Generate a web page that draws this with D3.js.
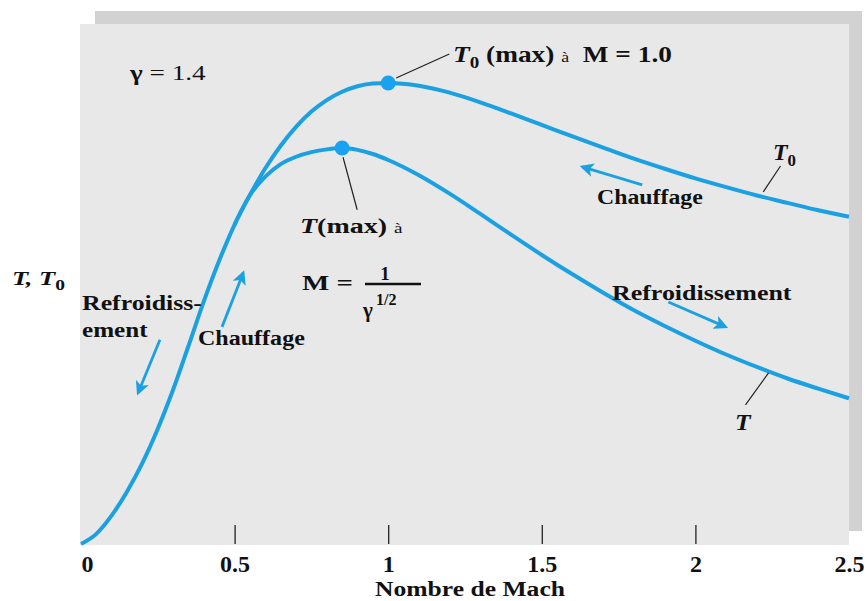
<!DOCTYPE html>
<html lang="fr">
<head>
  <meta charset="UTF-8" />
  <title>Rayleigh : T et T0 en fonction du nombre de Mach</title>
  <script src="https://d3js.org/d3.v7.min.js"></script>
  <style>
    html, body { margin: 0; padding: 0; background: #ffffff; }
    svg { display: block; }
    text { font-family: 'Liberation Serif', 'Times New Roman', serif; fill: #111; white-space: pre; }
  </style>
</head>
<body>
  <div id="chart"></div>
  <script>
    // valeurs (gamma = 1.4)
    const machT0 = [0, 0.05, 0.1, 0.15, 0.2, 0.25, 0.3, 0.35, 0.4, 0.45, 0.5, 0.55, 0.6, 0.65, 0.7, 0.75, 0.8, 0.85, 0.9, 0.95,
                    1.0, 1.1, 1.2, 1.3, 1.4, 1.5, 1.6, 1.7, 1.8, 1.9, 2.0, 2.1, 2.2, 2.3, 2.4, 2.5];
    const t0Values = [0, 0.022, 0.062, 0.114, 0.176, 0.250, 0.335, 0.430, 0.527, 0.615, 0.693, 0.757, 0.815, 0.864, 0.905, 0.938, 0.963, 0.981, 0.993, 0.999,
                      1.000, 0.994, 0.979, 0.958, 0.934, 0.909, 0.884, 0.860, 0.836, 0.814, 0.793, 0.774, 0.756, 0.740, 0.724, 0.710];

    const machT = [0.5, 0.55, 0.6, 0.65, 0.7, 0.75, 0.8, 0.85, 0.9, 0.95,
                   1.0, 1.1, 1.2, 1.3, 1.4, 1.5, 1.6, 1.7, 1.8, 1.9, 2.0, 2.1, 2.2, 2.3, 2.4, 2.5];
    const tValues = [0.693, 0.757, 0.797, 0.824, 0.840, 0.850, 0.856, 0.859, 0.855, 0.846,
                     0.833, 0.800, 0.760, 0.716, 0.671, 0.627, 0.585, 0.545, 0.507, 0.473, 0.441, 0.411, 0.384, 0.359, 0.337, 0.316];

    const machTicks = [0, 0.5, 1, 1.5, 2, 2.5];
    const tickLabels = ["0", "0.5", "1", "1.5", "2", "2.5"];

    // fleches de sens (M, valeur) -> (M, valeur), pointe a la fin
    const arrows = [
      [[1.827, 0.779], [1.632, 0.818]],
      [[1.912, 0.525], [2.098, 0.471]],
      [[0.257, 0.443], [0.186, 0.328]],
      [[0.459, 0.471], [0.528, 0.588]]
    ];
    // traits de rappel des etiquettes
    const leaders = [
      [[1.026, 1.011], [1.199, 1.063]],
      [[0.853, 0.839], [0.899, 0.725]],
      [[2.221, 0.764], [2.277, 0.820]],
      [[2.238, 0.371], [2.163, 0.302]]
    ];

    const W = 866, H = 601;
    const blue = "#1ba0e2";

    const svg = d3.select("#chart").append("svg")
      .attr("width", W)
      .attr("height", H);

    const x = d3.scaleLinear().domain([0, 2.5]).range([81, 849]);
    const y = d3.scaleLinear().domain([0, 1]).range([544, 83]);

    // fond gris avec ombre
    svg.append("rect")
      .attr("x", 95).attr("y", 11)
      .attr("width", 767).attr("height", 520)
      .attr("fill", "#d2d2d2");
    svg.append("rect")
      .attr("x", 80).attr("y", 24)
      .attr("width", 769).attr("height", 521)
      .attr("fill", "#e8e8e8");

    // axe des x
    const xAxis = d3.axisBottom(x)
      .tickValues(machTicks)
      .tickFormat((d, i) => tickLabels[i])
      .tickSizeInner(-19)
      .tickSizeOuter(0)
      .tickPadding(11);

    const gx = svg.append("g")
      .attr("transform", `translate(0,${y(0)})`)
      .call(xAxis);
    gx.select(".domain").remove();
    gx.selectAll(".tick line")
      .attr("stroke", "#222")
      .attr("stroke-width", 1.3)
      .filter(d => d === 0 || d === 2.5).remove();
    gx.selectAll(".tick text")
      .attr("font-family", "'Liberation Serif', serif")
      .attr("font-size", 24)
      .attr("font-weight", "bold")
      .attr("fill", "#111")
      .attr("dx", d => d === 0 ? 6 : 0);

    // courbes
    const line = d3.line()
      .x(d => x(d[0]))
      .y(d => y(d[1]))
      .curve(d3.curveMonotoneX);

    const t0Data = machT0.map((m, i) => [m, t0Values[i]]);
    const tData = machT.map((m, i) => [m, tValues[i]]);

    svg.append("path")
      .datum(t0Data)
      .attr("d", line)
      .attr("fill", "none")
      .attr("stroke", blue)
      .attr("stroke-width", 4);

    svg.append("path")
      .datum(tData)
      .attr("d", line)
      .attr("fill", "none")
      .attr("stroke", blue)
      .attr("stroke-width", 4);

    // maxima
    const peaks = [t0Data[d3.maxIndex(t0Values)], tData[d3.maxIndex(tValues)]];
    svg.selectAll(".peak")
      .data(peaks)
      .join("circle")
      .attr("class", "peak")
      .attr("cx", d => x(d[0]))
      .attr("cy", d => y(d[1]))
      .attr("r", 7.5)
      .attr("fill", "#19a2f2");

    // traits de rappel
    svg.selectAll(".leader")
      .data(leaders)
      .join("line")
      .attr("class", "leader")
      .attr("x1", d => x(d[0][0])).attr("y1", d => y(d[0][1]))
      .attr("x2", d => x(d[1][0])).attr("y2", d => y(d[1][1]))
      .attr("stroke", "#222")
      .attr("stroke-width", 1.2);

    // fleches
    svg.append("defs").append("marker")
      .attr("id", "head")
      .attr("viewBox", "0 0 10 10")
      .attr("refX", 8).attr("refY", 5)
      .attr("markerWidth", 5).attr("markerHeight", 5)
      .attr("orient", "auto")
      .append("path")
      .attr("d", "M0,0 L10,5 L0,10 L2.5,5 Z")
      .attr("fill", blue);

    svg.selectAll(".arrow")
      .data(arrows)
      .join("line")
      .attr("class", "arrow")
      .attr("x1", d => x(d[0][0])).attr("y1", d => y(d[0][1]))
      .attr("x2", d => x(d[1][0])).attr("y2", d => y(d[1][1]))
      .attr("stroke", blue)
      .attr("stroke-width", 2.8)
      .attr("marker-end", "url(#head)");

    // texte etire pour une largeur donnee (la figure d'origine est etiree)
    function label(x0, y0, width, size, build) {
      const g = svg.append("g");
      const t = g.append("text").attr("font-size", size);
      build(t);
      const w = t.node().getBBox().width;
      g.attr("transform", `translate(${x0},${y0}) scale(${width / w},1)`);
      return t;
    }
    const plain = (txt, weight) => t => t.attr("font-weight", weight || "bold").text(txt);

    label(130, 80, 77, 22, t => {
      t.append("tspan").attr("font-weight", "bold").text("γ");
      t.append("tspan").text(" = 1.4");
    });

    label(453, 62, 219, 23, t => {
      t.append("tspan").attr("font-weight", "bold").attr("font-style", "italic").text("T");
      t.append("tspan").attr("font-weight", "bold").attr("font-size", 16).attr("dy", 6).text("0");
      t.append("tspan").attr("font-weight", "bold").attr("dy", -6).text(" (max) ");
      t.append("tspan").attr("font-size", 15).text("à");
      t.append("tspan").attr("font-weight", "bold").text("  M = 1.0");
    });

    label(300, 233, 103, 22, t => {
      t.append("tspan").attr("font-weight", "bold").attr("font-style", "italic").text("T");
      t.append("tspan").attr("font-weight", "bold").text("(max) ");
      t.append("tspan").attr("font-size", 15).text("à");
    });

    label(302, 290, 51, 21, plain("M ="));
    svg.append("text")
      .attr("x", 385).attr("y", 280)
      .attr("text-anchor", "middle")
      .attr("font-size", 19).attr("font-weight", "bold")
      .text("1");
    svg.append("line")
      .attr("x1", 365).attr("x2", 421)
      .attr("y1", 284).attr("y2", 284)
      .attr("stroke", "#111").attr("stroke-width", 2.5);
    svg.append("text")
      .attr("x", 363).attr("y", 317)
      .attr("font-size", 21).attr("font-weight", "bold")
      .text("γ");
    svg.append("text")
      .attr("x", 376).attr("y", 305)
      .attr("font-size", 16).attr("font-weight", "bold")
      .text("1/2");

    label(773, 160, 23, 24, t => {
      t.append("tspan").attr("font-weight", "bold").attr("font-style", "italic").text("T");
      t.append("tspan").attr("font-weight", "bold").attr("font-size", 17).attr("dy", 6).text("0");
    });
    label(735, 430, 17, 24, t => t.attr("font-weight", "bold").attr("font-style", "italic").text("T"));

    label(12, 285, 53, 19, t => {
      t.append("tspan").attr("font-weight", "bold").attr("font-style", "italic").text("T, T");
      t.append("tspan").attr("font-weight", "bold").attr("font-size", 14).attr("dy", 5).text("0");
    });

    label(597, 204, 106, 20, plain("Chauffage"));
    label(612, 300, 180, 20, plain("Refroidissement"));
    label(82, 310, 120, 20, plain("Refroidiss-"));
    label(82, 337, 66, 20, plain("ement"));
    label(198, 345, 107, 20, plain("Chauffage"));
    label(375, 596, 190, 22, plain("Nombre de Mach"));
  </script>
</body>
</html>
